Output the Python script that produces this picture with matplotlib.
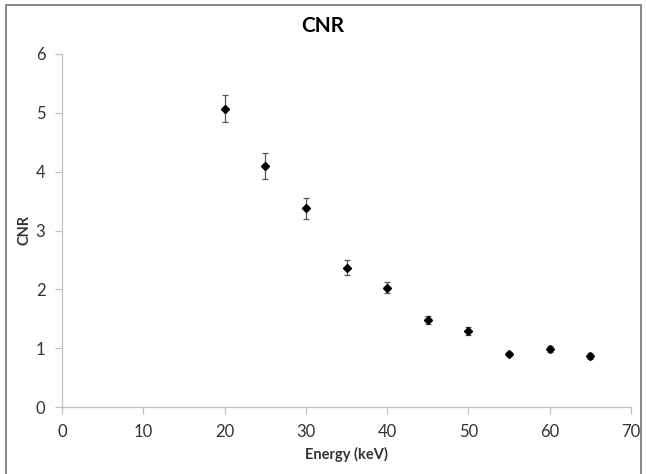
import matplotlib
matplotlib.use("Agg")
import matplotlib.pyplot as plt
from matplotlib.patches import Rectangle

plt.rcParams['font.family'] = ['Lato', 'DejaVu Sans']

energy = [20, 25, 30, 35, 40, 45, 50, 55, 60, 65]
cnr = [5.07, 4.10, 3.38, 2.37, 2.03, 1.48, 1.29, 0.90, 0.98, 0.87]
err = [0.23, 0.22, 0.18, 0.13, 0.10, 0.07, 0.07, 0.03, 0.05, 0.05]
xticks = [0, 10, 20, 30, 40, 50, 60, 70]
yticks = [0, 1, 2, 3, 4, 5, 6]

fig = plt.figure(figsize=(6.46, 4.74), dpi=100)
ax = fig.add_axes([62/646, 1-407/474, (631-62)/646, (407-54)/474])

ax.errorbar(energy, cnr, yerr=err, fmt='D', color='black', markersize=4.5,
            ecolor='#555555', elinewidth=0.9, capsize=2.5, capthick=0.9)

ax.set_xlim(0, 70)
ax.set_ylim(0, 6)
ax.set_xticks(xticks)
ax.set_yticks(yticks)
for s in ['top', 'right']:
    ax.spines[s].set_visible(False)
for s in ['left', 'bottom']:
    ax.spines[s].set_color('#c0c0c0')
    ax.spines[s].set_linewidth(0.9)
ax.tick_params(axis='both', colors='#c0c0c0', labelcolor='#333333', labelsize=12, length=5, width=0.9)
ax.tick_params(axis='y', pad=7)
ax.tick_params(axis='x', pad=7)
ax.set_xlabel('Energy (keV)', fontsize=10.5, fontweight='bold', color='#333333', labelpad=5)
ax.set_ylabel('CNR', fontsize=10.5, fontweight='bold', color='#333333', labelpad=3)
fig.text(0.5, 1-26/474, 'CNR', ha='center', va='center', fontsize=15, fontweight='bold', color='black')

fig.patches.append(Rectangle((6/646, -0.05), (641-6)/646, 1.05 - 5/474, transform=fig.transFigure,
                             fill=False, edgecolor='#7f7f7f', linewidth=1.3))

fig.savefig('out.png', dpi=100)
